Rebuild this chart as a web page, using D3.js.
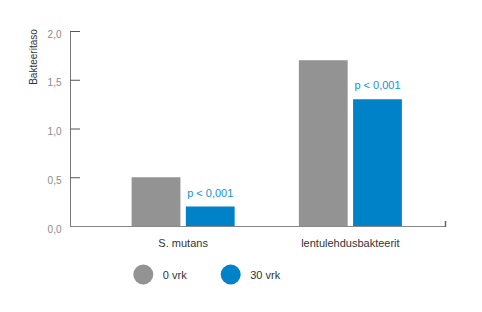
<!DOCTYPE html>
<html>
<head>
<meta charset="utf-8">
<script src="https://cdn.jsdelivr.net/npm/d3@7"></script>
<style>
  html, body { margin: 0; padding: 0; background: #fff; }
  svg { display: block; font-family: "Liberation Sans", Arial, Helvetica, sans-serif; }
</style>
</head>
<body>
<svg id="chart" width="482" height="312"></svg>
<script>
// Bacteria levels before and after 30 days
const categories = ["S. mutans", "lentulehdusbakteerit"];
const seriesNames = ["0 vrk", "30 vrk"];
const day0Values = [0.5, 1.7];
const day30Values = [0.2, 1.3];
const pLabels = ["p < 0,001", "p < 0,001"];
const yTicks = [0, 0.5, 1.0, 1.5, 2.0];
const yAxisTitle = "Bakteeritaso";

const colors = ["#939393", "#0082c8"];
const pColor = "#1a8fd6";

const svg = d3.select("#chart");

const y = d3.scaleLinear().domain([0, 2]).range([226, 31]);
const x0 = d3.scaleBand().domain(categories).range([99.5, 434]).paddingInner(0.384).paddingOuter(0.192);
const x1 = d3.scaleBand().domain(seriesNames).range([0, x0.bandwidth()]).paddingInner(0.1);

const fmt = v => d3.format(".1f")(v).replace(".", ",");

// y axis
const yAxis = d3.axisRight(y).tickValues(yTicks).tickSize(10).tickFormat("");
const yg = svg.append("g").attr("transform", "translate(70,0)").call(yAxis);
yg.select(".domain").attr("stroke", "#777").attr("d", `M0.5,${y(2)}V${y(0)}`);
yg.selectAll(".tick line").attr("stroke", "#555").attr("x1", 0.5).attr("x2", 10);
yg.selectAll(".tick").append("text")
  .attr("x", -8.5)
  .attr("dy", "0.62em")
  .attr("text-anchor", "end")
  .attr("fill", "#8a8a8a")
  .attr("font-size", "10px")
  .text(d => fmt(d));

svg.append("text")
  .attr("transform", "translate(37,57) rotate(-90)")
  .attr("text-anchor", "middle")
  .attr("fill", "#333")
  .attr("font-size", "10px")
  .text(yAxisTitle);

// bars
const rows = categories.map((c, i) => ({ cat: c, vals: [day0Values[i], day30Values[i]], p: pLabels[i] }));
const groups = svg.append("g").selectAll("g").data(rows).join("g")
  .attr("transform", d => `translate(${x0(d.cat)},0)`);

groups.selectAll("rect").data(d => d.vals.map((v, j) => ({ name: seriesNames[j], v, j }))).join("rect")
  .attr("x", d => x1(d.name))
  .attr("width", x1.bandwidth())
  .attr("y", d => y(d.v))
  .attr("height", d => y(0) - y(d.v))
  .attr("fill", d => colors[d.j]);

groups.append("text")
  .attr("x", x1(seriesNames[1]) + x1.bandwidth() / 2)
  .attr("y", (d) => y(d.vals[1]) - 10)
  .attr("text-anchor", "middle")
  .attr("fill", pColor)
  .attr("font-size", "11px")
  .text(d => d.p);

// x baseline
svg.append("path")
  .attr("d", `M70,${y(0) + 0.5}H446`)
  .attr("stroke", "#888").attr("stroke-width", 1.2).attr("fill", "none");
svg.append("path")
  .attr("d", `M445.5,${y(0) - 5}V${y(0) + 1}`)
  .attr("stroke", "#666").attr("stroke-width", 1.5);

// category labels
svg.append("g").selectAll("text").data(categories).join("text")
  .attr("x", d => x0(d) + x0.bandwidth() / 2)
  .attr("y", 246.5)
  .attr("text-anchor", "middle")
  .attr("fill", "#333")
  .attr("font-size", "11px")
  .text(d => d);

// legend
const legendX = [143.3, 230.7];
const legend = svg.append("g").selectAll("g").data(seriesNames).join("g")
  .attr("transform", (d, i) => `translate(${legendX[i]},274.5)`);
legend.append("circle").attr("r", 10).attr("fill", (d, i) => colors[i]);
legend.append("text")
  .attr("x", 19.5)
  .attr("y", 4)
  .attr("fill", "#333")
  .attr("font-size", "11px")
  .text(d => d);
</script>
</body>
</html>
